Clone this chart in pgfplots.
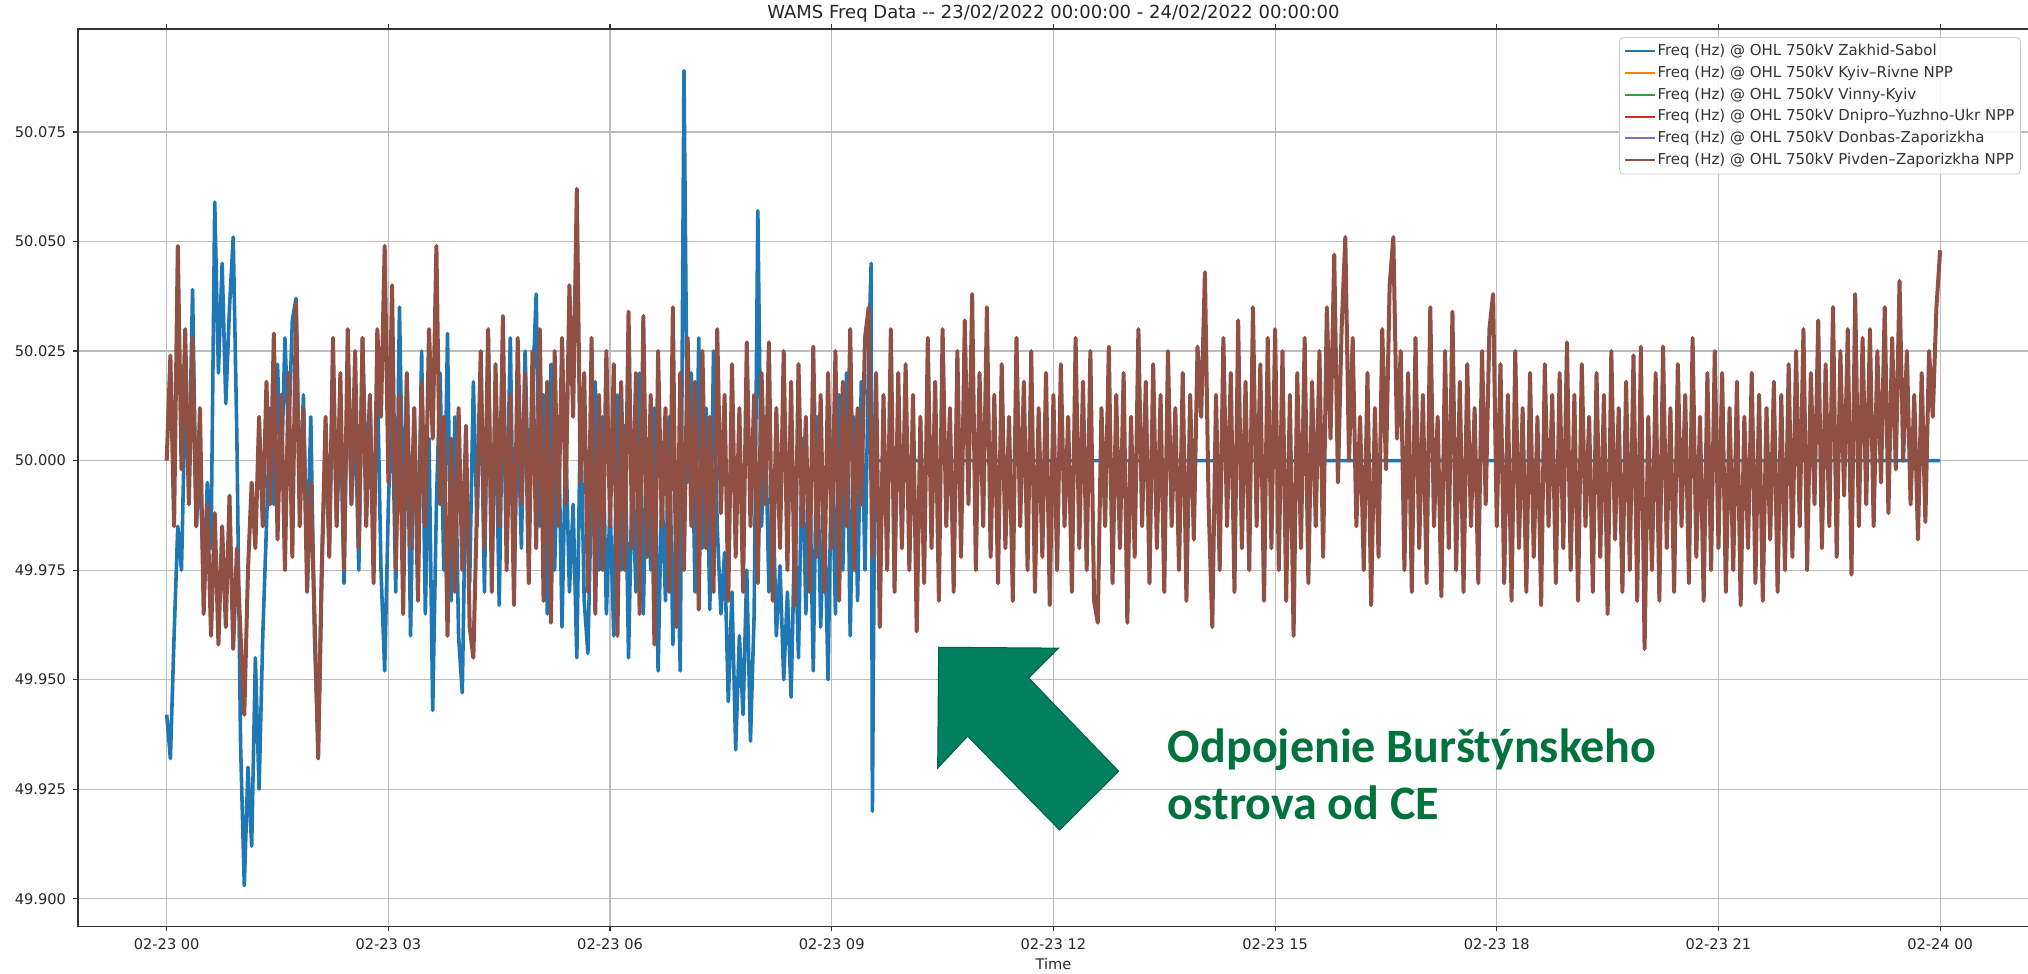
\documentclass[border=0pt]{standalone}
\usepackage{fontspec}
\setmainfont{DejaVu Sans}
\newfontfamily\annfont{Carlito}
\usepackage{pgfplots}
\usepackage{pgfplotstable}
\pgfplotsset{compat=1.18}
\definecolor{mplblue}{HTML}{1F77B4}
\definecolor{mplorange}{HTML}{FF7F0E}
\definecolor{mplgreen}{HTML}{2CA02C}
\definecolor{mplred}{HTML}{D62728}
\definecolor{mplpurple}{HTML}{9467BD}
\definecolor{mplbrown}{RGB}{145,80,68}
\definecolor{annfill}{RGB}{0,128,96}
\definecolor{annline}{RGB}{0,95,70}
\definecolor{anntext}{RGB}{0,114,60}

\pgfplotstableread{
m f
0 49.942
3 49.932
6 49.960
9 49.985
12 49.975
15 50.014
18 49.995
21 50.039
24 49.985
27 49.999
30 49.972
33 49.995
36 49.980
39 50.059
42 50.020
45 50.045
48 50.013
51 50.035
54 50.051
57 50.005
60 49.935
63 49.903
66 49.930
69 49.912
72 49.955
75 49.925
78 49.960
81 49.985
84 50.012
87 49.990
90 50.022
93 49.995
96 50.028
99 50.005
102 50.032
105 50.037
108 49.990
111 50.015
114 49.975
117 50.010
120 49.960
123 49.935
126 49.978
129 50.005
132 49.980
135 50.020
138 49.985
141 50.012
144 49.972
147 50.025
150 49.990
153 50.010
156 49.975
159 50.028
162 49.995
165 50.015
168 49.980
171 50.020
174 49.975
177 49.952
180 49.990
183 50.015
186 49.970
189 50.035
192 49.985
195 50.020
198 49.960
201 50.012
204 49.975
207 50.025
210 49.965
213 50.005
216 49.943
219 49.990
222 50.020
225 49.975
228 50.029
231 49.968
234 50.010
237 49.960
240 49.947
243 50.000
246 49.972
249 50.018
252 49.985
255 50.022
258 49.970
261 50.029
264 49.975
267 50.015
270 49.967
273 50.020
276 49.985
279 50.028
282 49.972
285 50.012
288 49.980
291 50.025
294 49.990
297 50.015
300 50.038
303 49.985
306 50.015
309 49.965
312 50.022
315 49.975
318 50.010
321 49.962
324 50.005
327 49.970
330 49.990
333 49.955
336 50.012
339 49.968
342 49.956
345 49.995
348 50.018
351 49.975
354 50.010
357 49.965
360 49.990
363 49.960
366 50.015
369 49.975
372 50.008
375 49.955
378 49.998
381 49.970
384 50.020
387 49.965
390 50.005
393 49.975
396 50.012
399 49.952
402 49.995
405 49.968
408 50.010
411 49.958
414 49.990
417 49.952
420 50.089
423 49.995
426 50.020
429 49.970
432 50.028
435 49.980
438 50.012
441 49.966
444 50.025
447 49.985
450 49.965
453 49.979
456 49.945
459 49.970
462 49.934
465 49.960
468 49.942
471 49.975
474 49.936
477 49.965
480 50.057
483 49.985
486 50.010
489 49.970
492 49.995
495 49.960
498 49.976
501 49.950
504 49.970
507 49.946
510 49.985
513 49.955
516 50.005
519 49.965
522 49.998
525 49.952
528 50.010
531 49.962
534 49.990
537 49.950
540 50.005
543 49.965
546 50.015
549 49.975
552 50.020
555 49.960
558 50.010
561 49.968
564 50.018
567 49.975
570 50.025
572 50.045
573 49.920
575 50.000
1440 50.000
}\bluedata

\pgfplotstableread{
m f
0 50.000
3 50.024
6 49.985
9 50.049
12 49.998
15 50.030
18 49.990
21 50.028
24 49.985
27 50.012
30 49.965
33 49.990
36 49.960
39 49.988
42 49.958
45 49.985
48 49.962
51 49.992
54 49.957
57 49.980
60 49.960
63 49.942
66 49.975
69 49.995
72 49.980
75 50.010
78 49.985
81 50.018
84 49.990
87 50.029
90 49.982
93 50.015
96 49.975
99 50.020
102 49.978
105 50.036
108 49.985
111 50.012
114 49.970
117 49.995
120 49.965
123 49.932
126 49.975
129 50.010
132 49.978
135 50.028
138 49.985
141 50.020
144 49.975
147 50.030
150 49.990
153 50.025
156 49.980
159 50.028
162 49.985
165 50.015
168 49.972
171 50.030
174 50.010
177 50.049
180 49.995
183 50.040
186 49.975
189 50.015
192 49.965
195 50.020
198 49.980
201 50.012
204 49.968
207 50.018
210 49.985
213 50.030
216 50.005
219 50.049
222 49.990
225 50.010
228 49.960
231 50.005
234 49.970
237 50.012
240 49.975
243 50.008
246 49.962
249 49.955
252 49.990
255 50.025
258 49.980
261 50.030
264 49.970
267 50.022
270 49.985
273 50.033
276 49.975
279 50.015
282 49.967
285 50.028
288 49.990
291 50.020
294 49.972
297 50.025
300 49.980
303 50.030
306 49.968
309 50.018
312 49.963
315 50.025
318 49.985
321 50.028
324 49.990
327 50.040
330 50.010
333 50.062
336 49.995
339 50.020
342 49.970
345 50.028
348 49.965
351 50.015
354 49.975
357 50.025
360 49.985
363 50.022
366 49.960
369 50.018
372 49.975
375 50.034
378 49.980
381 50.020
384 49.965
387 50.033
390 49.978
393 50.015
396 49.958
399 50.025
402 49.985
405 50.012
408 49.970
411 50.035
414 49.962
417 50.020
420 49.975
423 50.028
426 49.985
429 50.018
432 49.966
435 50.025
438 49.980
441 50.010
444 49.970
447 50.030
450 49.988
453 50.015
456 49.968
459 50.022
462 49.978
465 50.012
468 49.970
471 50.027
474 49.985
477 50.015
480 49.972
483 50.020
486 49.990
489 50.027
492 49.968
495 50.012
498 49.980
501 50.025
504 49.975
507 50.018
510 49.967
513 50.022
516 49.985
519 50.010
522 49.970
525 50.026
528 49.978
531 50.015
534 49.970
537 50.020
540 49.980
543 50.025
546 49.968
549 50.018
552 49.985
555 50.030
558 49.975
561 50.012
564 49.990
567 50.028
570 50.035
573 49.978
576 50.020
579 49.962
582 50.015
585 49.975
588 50.030
591 49.970
594 50.020
597 49.980
600 50.022
603 49.975
606 50.015
609 49.961
612 50.010
615 49.972
618 50.028
621 49.980
624 50.018
627 49.968
630 50.030
633 49.985
636 50.012
639 49.970
642 50.025
645 49.978
648 50.032
651 49.990
654 50.038
657 49.975
660 50.020
663 49.985
666 50.035
669 49.978
672 50.015
675 49.972
678 50.022
681 49.980
684 50.010
687 49.968
690 50.028
693 49.985
696 50.018
699 49.975
702 50.025
705 49.970
708 50.012
711 49.978
714 50.020
717 49.967
720 50.015
723 49.975
726 50.022
729 49.985
732 50.010
735 49.970
738 50.028
741 49.980
744 50.018
747 49.975
750 50.025
753 49.968
756 49.963
759 50.012
762 49.985
765 50.026
768 49.972
771 50.015
774 49.980
777 50.020
780 49.963
783 50.010
786 49.978
789 50.030
792 49.985
795 50.018
798 49.972
801 50.022
804 49.980
807 50.015
810 49.970
813 50.025
816 49.985
819 50.012
822 49.975
825 50.020
828 49.968
831 50.015
834 49.982
837 50.026
840 50.010
843 50.043
846 49.990
849 49.962
852 50.015
855 49.975
858 50.028
861 49.985
864 50.020
867 49.970
870 50.032
873 49.980
876 50.018
879 49.975
882 50.035
885 49.985
888 50.022
891 49.968
894 50.028
897 49.980
900 50.030
903 49.975
906 50.025
909 49.968
912 50.015
915 49.960
918 50.020
921 49.980
924 50.028
927 49.972
930 50.018
933 49.985
936 50.025
939 49.978
942 50.035
945 50.005
948 50.047
951 49.995
954 50.030
957 50.051
960 50.000
963 50.028
966 49.985
969 50.010
972 49.975
975 50.020
978 49.967
981 50.012
984 49.978
987 50.030
990 49.998
993 50.040
996 50.051
999 50.005
1002 50.025
1005 49.975
1008 50.020
1011 49.970
1014 50.028
1017 49.980
1020 50.015
1023 49.972
1026 50.035
1029 49.985
1032 50.010
1035 49.969
1038 50.025
1041 49.980
1044 50.034
1047 49.975
1050 50.018
1053 49.970
1056 50.022
1059 49.985
1062 50.012
1065 49.972
1068 50.025
1071 49.990
1074 50.030
1077 50.038
1080 49.985
1083 50.022
1086 49.972
1089 50.015
1092 49.968
1095 50.025
1098 49.980
1101 50.012
1104 49.970
1107 50.020
1110 49.978
1113 50.010
1116 49.967
1119 50.022
1122 49.985
1125 50.015
1128 49.972
1131 50.020
1134 49.980
1137 50.027
1140 49.975
1143 50.015
1146 49.968
1149 50.022
1152 49.985
1155 50.010
1158 49.970
1161 50.020
1164 49.978
1167 50.015
1170 49.965
1173 50.025
1176 49.982
1179 50.012
1182 49.970
1185 50.018
1188 49.975
1191 50.024
1194 49.968
1197 50.026
1200 49.957
1203 50.010
1206 49.975
1209 50.020
1212 49.968
1215 50.026
1218 49.980
1221 50.012
1224 49.970
1227 50.022
1230 49.985
1233 50.015
1236 49.972
1239 50.028
1242 49.978
1245 50.010
1248 49.968
1251 50.020
1254 49.975
1257 50.025
1260 49.980
1263 50.020
1266 49.970
1269 50.012
1272 49.975
1275 50.018
1278 49.967
1281 50.010
1284 49.980
1287 50.020
1290 49.972
1293 50.015
1296 49.968
1299 50.012
1302 49.982
1305 50.018
1308 49.970
1311 50.015
1314 49.975
1317 50.022
1320 49.978
1323 50.025
1326 49.985
1329 50.030
1332 49.975
1335 50.020
1338 49.990
1341 50.032
1344 49.980
1347 50.022
1350 49.985
1353 50.035
1356 49.978
1359 50.025
1362 49.992
1365 50.030
1368 49.974
1371 50.038
1374 49.985
1377 50.028
1380 49.990
1383 50.030
1386 49.985
1389 50.025
1392 49.995
1395 50.035
1398 49.988
1401 50.028
1404 49.998
1407 50.041
1410 50.000
1413 50.025
1416 49.990
1419 50.015
1422 49.982
1425 50.020
1428 49.986
1431 50.025
1434 50.010
1437 50.035
1440 50.048
}\browndata

\begin{document}
\begin{tikzpicture}
\begin{axis}[
  scale only axis,
  width=975pt, height=448.5pt,
  xmin=-72, xmax=1512,
  ymin=49.8937, ymax=50.0985,
  enlargelimits=false,
  axis line style={black!80, line width=0.8pt},
  tick align=outside,
  major tick length=2.5pt,
  tick style={black!80, line width=0.6pt},
  xtick={0,180,360,540,720,900,1080,1260,1440},
  xticklabels={02-23 00,02-23 03,02-23 06,02-23 09,02-23 12,02-23 15,02-23 18,02-23 21,02-24 00},
  ytick={49.900,49.925,49.950,49.975,50.000,50.025,50.050,50.075},
  yticklabel style={/pgf/number format/.cd, fixed, fixed zerofill, precision=3, assume math mode=true},
  ticklabel style={font=\fontsize{7.3}{8.5}\selectfont, text=black!85},
  grid=major,
  major grid style={black!26, line width=0.6pt},
  every axis title shift=0pt,
  title={WAMS Freq Data -{}- 23/02/2022 00:00:00 - 24/02/2022 00:00:00},
  title style={font=\fontsize{9}{11}\selectfont, text=black!85, at={(0.5,1)}, anchor=center, yshift=7.5pt},
  xlabel={Time},
  xlabel style={font=\fontsize{7.3}{8.5}\selectfont, text=black!85, at={(axis description cs:0.5,0)}, anchor=center, yshift=-19pt},
  legend style={at={(0.9959,0.991)}, anchor=north east, font=\fontsize{7.5}{9}\selectfont,
    draw=black!20, rounded corners=2pt, fill=white, fill opacity=0.85, text opacity=1,
    row sep=1.2pt, inner xsep=2pt, inner ysep=2pt,
    nodes={inner sep=1pt, text height=6pt, text depth=1.7pt, text=black!80}},
  legend cell align=left,
  legend image code/.code={\draw[#1, line width=1pt] (0pt,0pt) -- (15pt,0pt);},
]
\addplot[mplblue, line width=1.8pt, line join=round] table[x=m, y=f] {\bluedata};
\addlegendentry{Freq (Hz) @ OHL 750kV Zakhid-Sabol}
\addlegendimage{mplorange}
\addlegendentry{Freq (Hz) @ OHL 750kV Kyiv–Rivne NPP}
\addlegendimage{mplgreen}
\addlegendentry{Freq (Hz) @ OHL 750kV Vinny-Kyiv}
\addlegendimage{mplred}
\addlegendentry{Freq (Hz) @ OHL 750kV Dnipro–Yuzhno-Ukr NPP}
\addlegendimage{mplpurple}
\addlegendentry{Freq (Hz) @ OHL 750kV Donbas-Zaporizkha}
\addplot[mplbrown, line width=2pt, line join=round] table[x=m, y=f] {\browndata};
\addlegendentry{Freq (Hz) @ OHL 750kV Pivden–Zaporizkha NPP}

\draw[draw=annline, fill=annfill, line width=0.5pt, line join=miter]
  (axis cs:626.8,49.9574) -- (axis cs:724.2,49.9572) -- (axis cs:699.9,49.9504)
  -- (axis cs:773.0,49.9291) -- (axis cs:725.0,49.9157) -- (axis cs:650.3,49.9371)
  -- (axis cs:626.0,49.9298) -- cycle;
\node[anchor=base west, inner sep=0pt, text=anntext, font=\annfont\bfseries\fontsize{24}{26}\selectfont]
  at (axis cs:812.7,49.931) {Odpojenie Burštýnskeho};
\node[anchor=base west, inner sep=0pt, text=anntext, font=\annfont\bfseries\fontsize{24}{26}\selectfont]
  at (axis cs:812.7,49.918) {ostrova od CE};
\end{axis}
\pgfresetboundingbox
\path[use as bounding box] (-39pt,-23.5pt) rectangle (974.6pt,463pt);
\end{tikzpicture}
\end{document}
